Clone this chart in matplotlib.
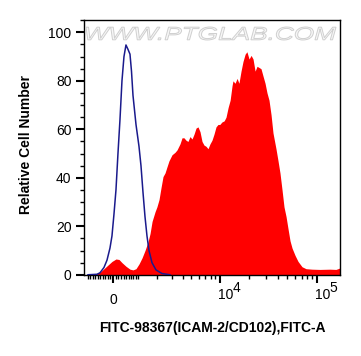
import matplotlib
matplotlib.use("Agg")
import matplotlib.pyplot as plt
from matplotlib.textpath import TextPath
from matplotlib.patches import PathPatch
from matplotlib.font_manager import FontProperties
from matplotlib.transforms import Affine2D
from matplotlib.ticker import FixedLocator, NullFormatter

plt.rcParams['font.family'] = ['Liberation Sans', 'DejaVu Sans']

# Isotype control (blue outline)
iso_x = [-1010, -626, -505, -348, -232, -118, -42, 34, 110, 186, 263, 340, 418, 497, 577, 659,
         721, 784, 913, 1046, 1138, 1233, 1330, 1430, 1534, 1695, 1925, 2302, 2878]
iso_y = [0, 0.2, 0.8, 3, 6, 11, 16, 25, 35, 50, 64, 80, 90, 94.8, 93, 91,
         84, 74, 62, 53, 45, 34, 24, 16, 10, 5, 2, 0.5, 0]

# Stained sample (red filled)
smp_x = [-1190, -1100, -708, -505, -348, -194, -41, 110, 225, 340, 497, 659, 784, 913, 1050, 1190,
         1330, 1480, 1590, 1700, 1870, 1980, 2110, 2240, 2370, 2510, 2650, 2800, 3040, 3290, 3470,
         3750, 3950, 4150, 4370, 4590, 4830, 5080, 5340, 5610, 5890, 6190, 6500, 6820, 7160, 7520,
         7890, 8280, 8690, 9120, 9570, 10000, 10500, 11100, 11600, 12200, 12800, 13400, 13700,
         14400, 15100, 15800, 16600, 17400, 18300, 19100, 20100, 21100, 22100, 23200, 24300,
         25500, 26700, 28000, 29400, 30800, 32300, 33900, 35500, 38100, 40000, 41900, 44000,
         46100, 48400, 50700, 53200, 55800, 59900, 64300, 70700, 77700, 89600, 108000, 137000,
         158000, 174000]
smp_y = [0, 0, 0.3, 1, 2.5, 4, 5.5, 6.5, 6.3, 5, 3.5, 2.3, 2, 2.5, 4.5, 7,
         10, 13.5, 17, 22, 26, 28, 31, 36, 40.5, 42, 44.5, 47, 49.5, 50.5, 51.5,
         54, 56.5, 56.5, 55.5, 55, 57, 56, 58, 60.5, 61, 59, 55, 53.5, 53, 52,
         54, 55.5, 58, 61, 62, 62, 63, 63.5, 65, 69, 72, 78, 80,
         79, 81, 79, 84, 88, 91, 92, 89, 90.5, 89, 84, 86,
         85.5, 85, 82, 79, 75, 72, 66, 58.5, 52, 47, 42, 35,
         28, 24, 19, 14, 11, 8, 5.5, 3.3, 2.5, 2.3, 2.2, 2.3,
         2.2, 2.8]

x_major = [0, 10000, 100000]
x_minor = ([-v for v in range(100, 1100, 100)] + list(range(100, 1000, 100)) +
           list(range(1000, 10000, 1000)) + list(range(20000, 100000, 10000)))
y_major = [0, 20, 40, 60, 80, 100]
y_minor = [5, 10, 15, 25, 30, 35, 45, 50, 55, 65, 70, 75, 85, 90, 95, 105]

W, H = 361, 356
fig = plt.figure(figsize=(W / 100, H / 100), dpi=100)
ax = fig.add_axes([84 / W, 81 / H, 256 / W, 255 / H])

ax.fill_between(smp_x, smp_y, -1, color='#ff0000', lw=0, zorder=2)
ax.plot(iso_x, iso_y, color='#1a1a8c', lw=1.1, zorder=3)

ax.set_xscale('asinh', linear_width=1600)
ax.set_xlim(-1193, 174000)
ax.set_ylim(-0.1, 105.1)

ax.xaxis.set_major_locator(FixedLocator(x_major))
ax.xaxis.set_minor_locator(FixedLocator(x_minor))
ax.xaxis.set_minor_formatter(NullFormatter())
ax.set_xticklabels(['0', '', ''])
ax.yaxis.set_major_locator(FixedLocator(y_major))
ax.yaxis.set_minor_locator(FixedLocator(y_minor))
ax.yaxis.set_minor_formatter(NullFormatter())
ax.set_yticklabels([str(v) for v in y_major])

ax.tick_params(which='major', direction='out', length=6, width=1.5, labelsize=10, colors='black', pad=3)
ax.tick_params(axis='x', which='major', pad=7)
ax.tick_params(which='minor', direction='out', length=3, width=1, colors='black')
for s in ax.spines.values():
    s.set_linewidth(1.0)
    s.set_color('black')

# power-of-ten tick labels
for xv, p in [(10000, '4'), (100000, '5')]:
    ax.annotate('10', xy=(xv, 0), xycoords=('data', 'axes fraction'), xytext=(-2, -13),
                textcoords='offset pixels', ha='left', va='top', fontsize=10)
    ax.annotate(p, xy=(xv, 0), xycoords=('data', 'axes fraction'), xytext=(13, -6),
                textcoords='offset pixels', ha='left', va='top', fontsize=10)

fig.text(212 / W, 1 - 328 / H, 'FITC-98367(ICAM-2/CD102),FITC-A', ha='center', va='center',
         fontsize=10, fontweight='bold')
fig.text(26 / W, 1 - 144 / H, 'Relative Cell Number', ha='center', va='center',
         rotation=90, fontsize=10, fontweight='bold')

# watermark
tp = TextPath((0, 0), 'WWW.PTGLAB.COM', size=1,
              prop=FontProperties(family='Liberation Sans', style='italic'))
ext = tp.get_extents()
x0, x1 = 86, 336
ytop, ybot = 27, 40
sx = (x1 - x0) / ext.width
sy = (ybot - ytop) / ext.height
tr = Affine2D().translate(-ext.x0, -ext.y0).scale(sx, sy).translate(x0, H - ybot)
fig.add_artist(PathPatch(tp, transform=tr, facecolor='#f7f7f7', edgecolor='#cfcfcf', lw=0.7, zorder=5))

fig.savefig('out.png', dpi=100)
